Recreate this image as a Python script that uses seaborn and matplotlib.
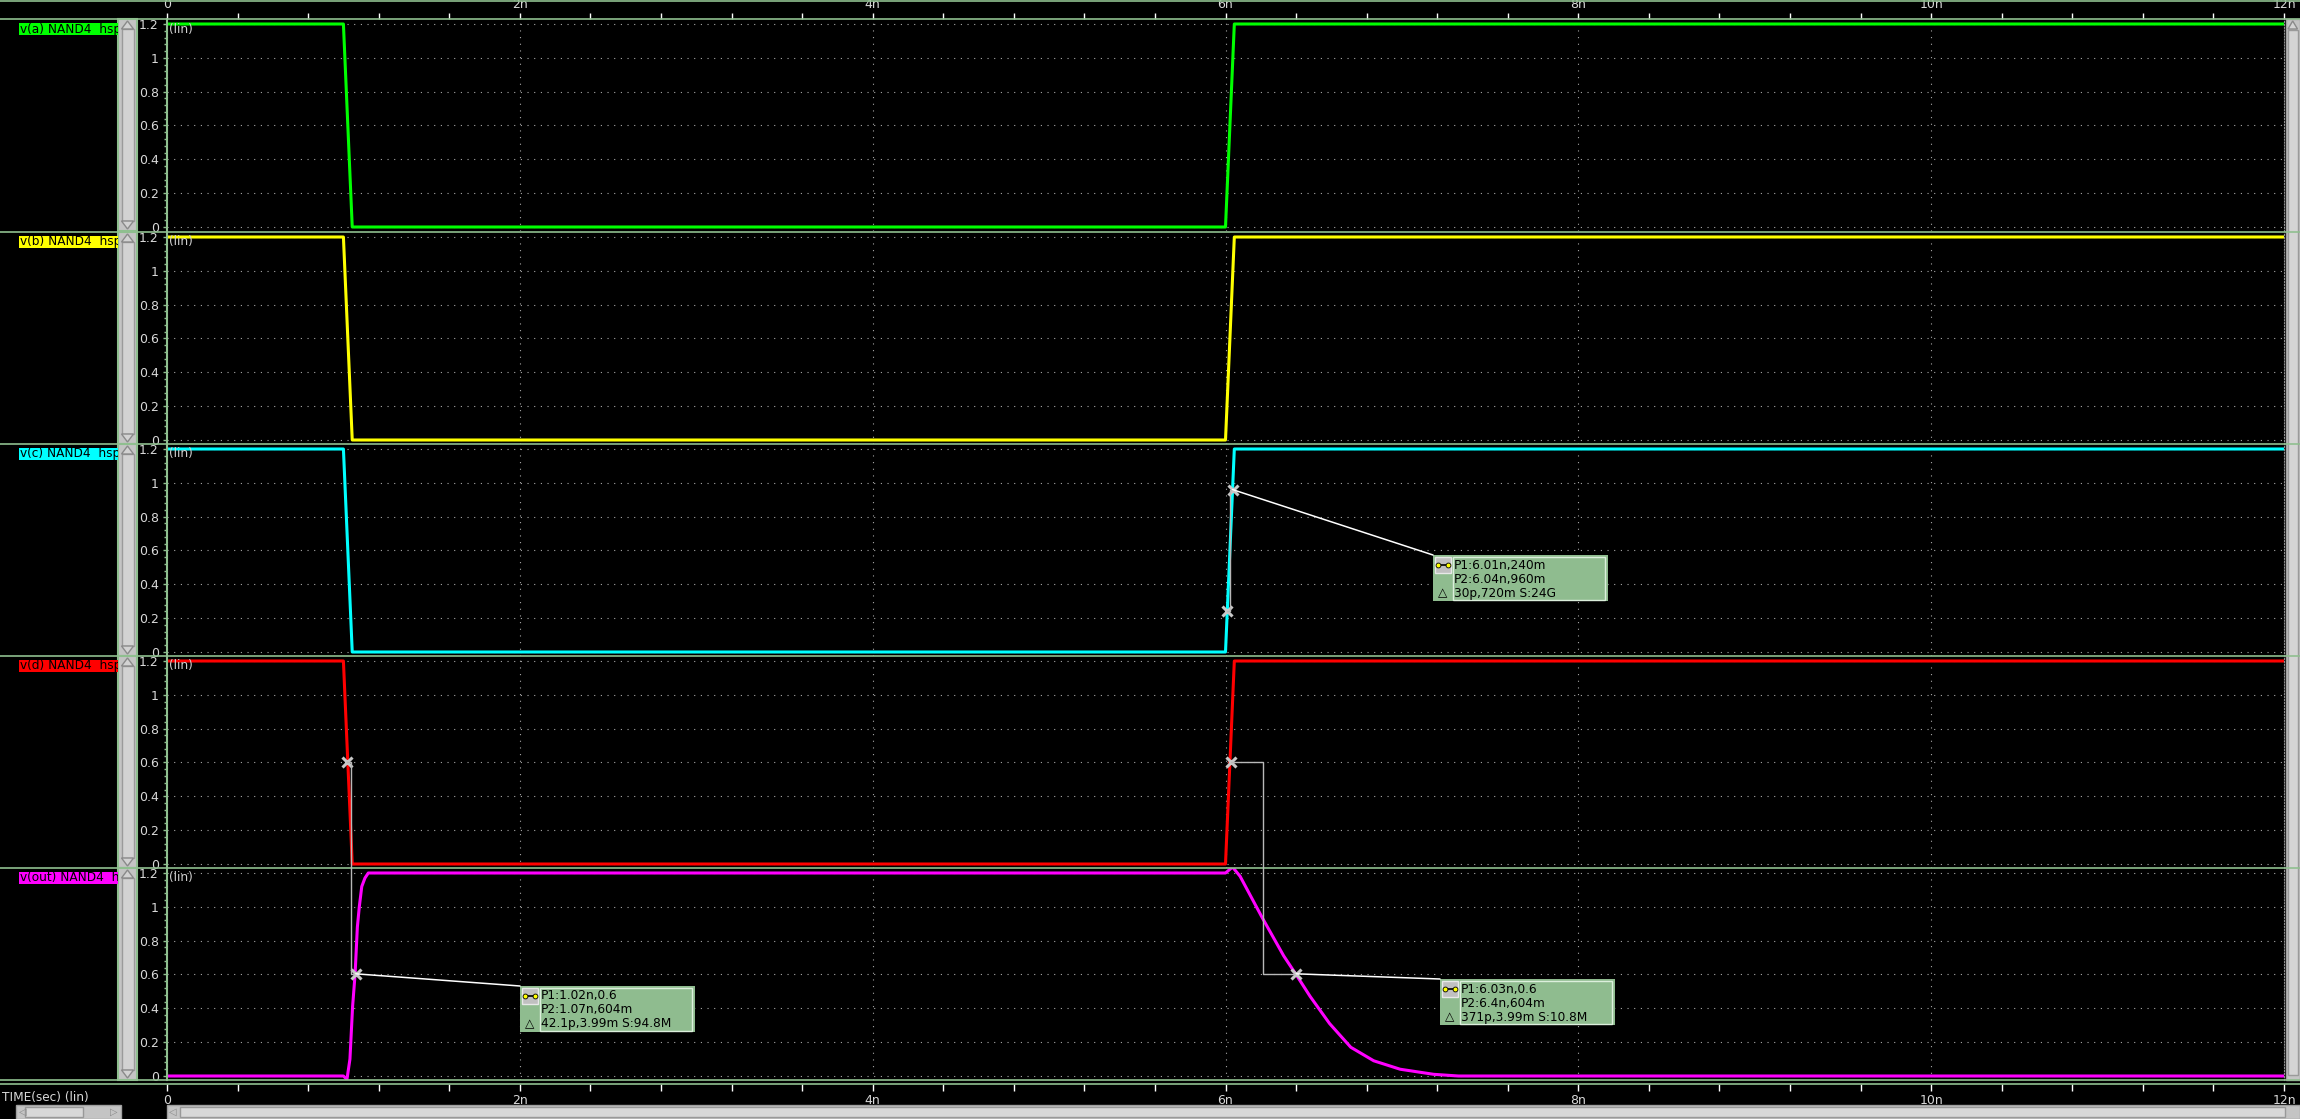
import numpy as np
import pandas as pd
import seaborn as sns
import matplotlib.pyplot as plt
from matplotlib.patches import Rectangle, Polygon
from matplotlib.ticker import MultipleLocator
from matplotlib.transforms import Bbox, TransformedBbox

# waveforms: time in ns, voltage in V
t_in = [0.0, 1.0, 1.05, 6.0, 6.05, 12.0]
v_a = [1.2, 1.2, 0.0, 0.0, 1.2, 1.2]
v_b = [1.2, 1.2, 0.0, 0.0, 1.2, 1.2]
v_c = [1.2, 1.2, 0.0, 0.0, 1.2, 1.2]
v_d = [1.2, 1.2, 0.0, 0.0, 1.2, 1.2]
t_out = [0.0, 1.0, 1.02, 1.037, 1.052, 1.066, 1.079, 1.09, 1.104, 1.122, 1.141, 1.2,
         6.0, 6.04, 6.083, 6.206, 6.33, 6.4, 6.48, 6.59, 6.71, 6.84, 6.99, 7.18, 7.32, 12.0]
v_out = [0.0, 0.0, -0.02, 0.1, 0.41, 0.6, 0.88, 1.0, 1.12, 1.17, 1.2, 1.2,
         1.2, 1.235, 1.18, 0.94, 0.71, 0.6, 0.47, 0.31, 0.17, 0.09, 0.04, 0.01, 0.0, 0.0]

names = ["v(a) NAND4  hsp", "v(b) NAND4  hsp", "v(c) NAND4  hsp",
         "v(d) NAND4  hsp", "v(out) NAND4  hsp"]
colors = ["#00ff00", "#ffff00", "#00ffff", "#ff0000", "#ff00ff"]

xticks = [0, 2, 4, 6, 8, 10, 12]
xtick_labels = ["0", "2n", "4n", "6n", "8n", "10n", "12n"]
yticks = [0, 0.2, 0.4, 0.6, 0.8, 1.0, 1.2]
ytick_labels = ["0", "0.2", "0.4", "0.6", "0.8", "1", "1.2"]

# measurement cursors
meas_c_t = [6.01, 6.04]
meas_c_v = [0.24, 0.96]
meas_d_t = [1.02, 6.03]
meas_d_v = [0.6, 0.6]
meas_out_t = [1.07, 6.4]
meas_out_v = [0.604, 0.604]
readout_c = ["P1:6.01n,240m", "P2:6.04n,960m", "30p,720m S:24G"]
readout_rise = ["P1:1.02n,0.6", "P2:1.07n,604m", "42.1p,3.99m S:94.8M"]
readout_fall = ["P1:6.03n,0.6", "P2:6.4n,604m", "371p,3.99m S:10.8M"]

sns.set_style("dark", {"axes.facecolor": "black", "figure.facecolor": "black"})
plt.rcParams["font.family"] = ["DejaVu Sans"]

W, H = 2300, 1119
X0, X1 = 167, 2284
tops = [19, 232, 444, 656, 868]
PH = 212
GREEN = "#8fbf8f"
GRID = "#a8a8a8"
TXT = "#d8d8d8"
FS = 8.7

fig = plt.figure(figsize=(W / 100, H / 100), dpi=100, facecolor="black")

waves = [(t_in, v_a), (t_in, v_b), (t_in, v_c), (t_in, v_d), (t_out, v_out)]
panels = []
for i, top in enumerate(tops):
    ax = fig.add_axes([X0 / W, 1 - (top + PH) / H, (X1 - X0) / W, PH / H])
    t, v = waves[i]
    sns.lineplot(x=t, y=v, ax=ax, color=colors[i], linewidth=2.2, estimator=None, sort=False)
    ax.set_xlim(0, 12)
    ax.set_ylim(-4 / 169.2, 1.2 + 5 / 169.2)
    ax.set_xlabel("")
    ax.set_ylabel("")
    ax.set_facecolor("black")
    ax.set_xticks(xticks)
    ax.xaxis.set_minor_locator(MultipleLocator(0.4))
    ax.set_yticks(yticks)
    ax.set_yticklabels(ytick_labels)
    ax.yaxis.set_minor_locator(MultipleLocator(0.04))
    ax.grid(True, which="major", color=GRID, linestyle=(0, (1, 5)), linewidth=0.8)
    ax.grid(False, which="minor")
    ax.tick_params(axis="y", which="both", left=True, direction="out", color=GREEN,
                   labelcolor=TXT, labelsize=9, pad=3)
    ax.tick_params(axis="y", which="major", length=3, width=1)
    ax.tick_params(axis="y", which="minor", length=2, width=1)
    ax.tick_params(axis="x", which="both", bottom=False, top=False, labelbottom=False)
    ax.spines["top"].set_visible(False)
    ax.spines["bottom"].set_visible(False)
    ax.spines["left"].set_color(GREEN)
    ax.spines["left"].set_linewidth(1.5)
    ax.spines["right"].set_color("#909090")
    ax.spines["right"].set_linestyle(":")
    panels.append(ax)

# time axis on top of the first panel
panels[0].set_xticklabels(xtick_labels)
panels[0].tick_params(axis="x", which="both", top=True, labeltop=True, direction="out",
                      length=4, width=1, color="white", labelcolor=TXT, labelsize=9, pad=1.5)

# bottom time axis
axb = fig.add_axes([X0 / W, 1 - 1084 / H, (X1 - X0) / W, 0.5 / H])
axb.set_xlim(0, 12)
axb.set_xticks(xticks)
axb.set_xticklabels(xtick_labels)
axb.xaxis.set_minor_locator(MultipleLocator(0.4))
axb.set_yticks([])
axb.patch.set_visible(False)
for s in axb.spines.values():
    s.set_visible(False)
axb.grid(False)
axb.tick_params(axis="x", which="both", bottom=True, direction="out", length=5, width=1,
                color="white", labelcolor=TXT, labelsize=9, pad=2)

# overlay in pixel coordinates for the viewer chrome
ov = fig.add_axes([0, 0, 1, 1], zorder=10)
ov.set_xlim(0, W)
ov.set_ylim(H, 0)
ov.axis("off")

for y in [0.7, 19, 232, 444, 656, 868, 1080, 1084]:
    ov.plot([0, W], [y, y], color=GREEN, lw=1.2)

for i, top in enumerate(tops):
    bot = top + PH
    ov.add_patch(Rectangle((118, top), 19, PH, fc="#c4c4c4", ec=GREEN, lw=1.5))
    ov.add_patch(Rectangle((121.5, top + 10), 12, PH - 20, fc="#d2d2d2", ec="#9a9a9a", lw=1))
    ov.add_patch(Polygon([(121.5, top + 10), (133.5, top + 10), (127.5, top + 2)],
                         fc="#d2d2d2", ec="#8a8a8a", lw=1))
    ov.add_patch(Polygon([(121.5, bot - 10), (133.5, bot - 10), (127.5, bot - 2)],
                         fc="#d2d2d2", ec="#8a8a8a", lw=1))
    ov.add_patch(Rectangle((19, top + 4), 99, 11.5, fc=colors[i], ec="none"))
    lab = ov.text(20, top + 10, names[i], fontsize=FS, color="black", va="center", ha="left",
                  clip_on=True)
    lab.set_clip_box(TransformedBbox(Bbox.from_extents(19, 0, 118, H), ov.transData))
    ov.text(169, top + 10, "(lin)", fontsize=FS, color="#d0d0d0", va="center", ha="left")

# right scrollbar
ov.add_patch(Rectangle((2285.5, 19), 14.5, 1061, fc="#c4c4c4", ec="#a0a0a0", lw=1))
ov.add_patch(Rectangle((2288, 30), 9.5, 1045, fc="#d4d4d4", ec="#9a9a9a", lw=1))
ov.add_patch(Polygon([(2288, 29), (2297.5, 29), (2292.7, 21)], fc="#d4d4d4", ec="#8a8a8a", lw=1))

# bottom bar
ov.text(2, 1097, "TIME(sec) (lin)", fontsize=FS, color=TXT, va="center", ha="left")
ov.add_patch(Rectangle((16, 1105), 105, 14, fc="#c4c4c4", ec="#a0a0a0", lw=1))
ov.add_patch(Rectangle((25, 1107), 58, 10, fc="#d8d8d8", ec="#999999", lw=1))
ov.text(19, 1112, "◁", fontsize=7, color="#888888", va="center", ha="left")
ov.text(118, 1112, "▷", fontsize=7, color="#888888", va="center", ha="right")
ov.add_patch(Rectangle((167, 1105), 2133, 14, fc="#c4c4c4", ec="#a0a0a0", lw=1))
ov.add_patch(Rectangle((180, 1107), 2105, 10, fc="#d8d8d8", ec="#999999", lw=1))
ov.text(169, 1112, "◁", fontsize=7, color="#888888", va="center", ha="left")

ax_c, ax_d, ax_o = panels[2], panels[3], panels[4]
mk = dict(ls="none", marker="x", ms=7, mew=2.2, color="#c8c8c8", zorder=5)
ax_c.plot(meas_c_t, meas_c_v, **mk)
ax_d.plot(meas_d_t, meas_d_v, **mk)
ax_o.plot(meas_out_t, meas_out_v, **mk)


def px(ax, x, y):
    dx, dy = ax.transData.transform((x, y))
    return dx, H - dy


def readout(x, y, lines):
    ov.add_patch(Rectangle((x, y), 175, 46, fc="#8fbc8f", ec="none"))
    ov.add_patch(Rectangle((x + 20, y + 1.5), 152, 43, fc="none", ec="#dcefdc", lw=1))
    ov.add_patch(Rectangle((x + 2, y + 2), 16, 16, fc="#c0c0c0", ec="#e8e8e8", lw=1))
    ov.plot([x + 5, x + 15], [y + 10, y + 10], color="black", lw=1.2)
    ov.plot([x + 5, x + 15], [y + 10, y + 10], ls="none", marker="o", ms=3.5,
            mfc="#ffff00", mec="black", mew=0.6)
    ov.text(x + 10, y + 38, "△", fontsize=FS, color="black", va="center", ha="center")
    for k, s in enumerate(lines):
        ov.text(x + 21, y + 10 + 14 * k, s, fontsize=FS, color="black", va="center", ha="left")


def connect(ax1, p1, ax2, p2, box, lines):
    x1, y1 = px(ax1, p1[0], p1[1])
    x2, y2 = px(ax2, p2[0], p2[1])
    xm = px(ax1, (p1[0] + p2[0]) / 2, 0)[0]
    ov.plot([x1, xm, xm, x2], [y1, y1, y2, y2], color="#b8b8b8", lw=1)
    ov.plot([x2, box[0]], [y2, box[1]], color="white", lw=1.1)
    readout(box[0], box[1], lines)


connect(ax_c, (meas_c_t[0], meas_c_v[0]), ax_c, (meas_c_t[1], meas_c_v[1]), (1433, 555), readout_c)
connect(ax_d, (meas_d_t[0], meas_d_v[0]), ax_o, (meas_out_t[0], meas_out_v[0]), (520, 986), readout_rise)
connect(ax_d, (meas_d_t[1], meas_d_v[1]), ax_o, (meas_out_t[1], meas_out_v[1]), (1440, 979), readout_fall)

fig.savefig("out.png", dpi=100, facecolor="black")
